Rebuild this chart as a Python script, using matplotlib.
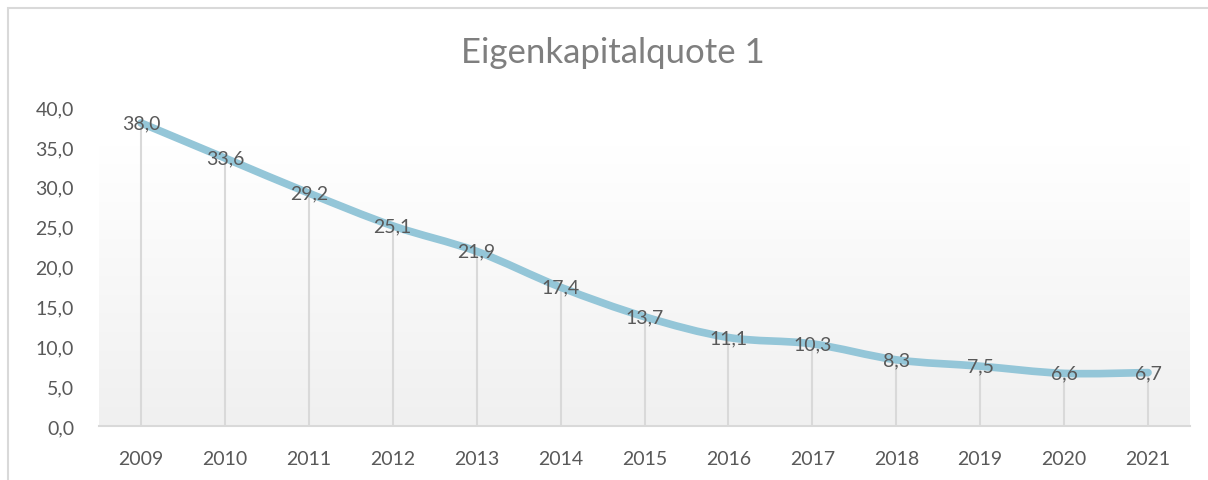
import numpy as np
import matplotlib
matplotlib.use("Agg")
import matplotlib.pyplot as plt
from matplotlib.path import Path
from matplotlib.patches import PathPatch, Rectangle

years = ["2009", "2010", "2011", "2012", "2013", "2014", "2015",
         "2016", "2017", "2018", "2019", "2020", "2021"]
values = [38.0, 33.6, 29.2, 25.1, 21.9, 17.4, 13.7, 11.1, 10.3, 8.3, 7.5, 6.6, 6.7]
yticks = [0, 5, 10, 15, 20, 25, 30, 35, 40]
title = "Eigenkapitalquote 1"

plt.rcParams['font.family'] = ['Lato', 'DejaVu Sans']

W, H = 1208, 481
fig = plt.figure(figsize=(W / 100, H / 100), dpi=100)
fig.patch.set_facecolor("white")

ax = fig.add_axes([99 / W, 1 - 427 / H, (1190 - 99) / W, (427 - 108) / H])
ax.set_facecolor("none")

x = np.arange(len(years))
y = np.array(values)

# gradient background
grad = np.linspace(0, 1, 256).reshape(-1, 1)
ax.imshow(grad, extent=(-0.5, 12.5, 0, 35.2), aspect="auto", origin="upper",
          cmap=matplotlib.colors.LinearSegmentedColormap.from_list(
              "g", ["#FFFFFF", "#F0F0F0"]), zorder=0, interpolation="bilinear")

# drop lines
ax.vlines(x, 0, y, color="#D9D9D9", lw=1.5, zorder=1)

# smoothed line (Bezier through the data points)
pts = np.column_stack([x, y]).astype(float)
verts = [tuple(pts[0])]
codes = [Path.MOVETO]
n = len(pts)
for i in range(n - 1):
    p0 = pts[i - 1] if i > 0 else pts[i]
    p1 = pts[i]
    p2 = pts[i + 1]
    p3 = pts[i + 2] if i + 2 < n else pts[i + 1]
    c1 = p1 + (p2 - p0) / 6.0
    c2 = p2 - (p3 - p1) / 6.0
    verts += [tuple(c1), tuple(c2), tuple(p2)]
    codes += [Path.CURVE4] * 3
path = Path(verts, codes)
ax.add_patch(PathPatch(path, facecolor="none", edgecolor="#94C6D8", lw=5.5,
                       capstyle="round", joinstyle="round", zorder=2))

for xi, yi in zip(x, y):
    ax.text(xi, yi, f"{yi:.1f}".replace(".", ","), ha="center", va="center",
            fontsize=14, color="#595959", zorder=3)

ax.set_xlim(-0.5, 12.5)
ax.set_ylim(0, 40)
ax.set_xticks(x)
ax.set_xticklabels(years)
ax.set_yticks(yticks)
ax.set_yticklabels([f"{v:.1f}".replace(".", ",") for v in yticks])
ax.tick_params(axis="both", length=0, labelsize=14, colors="#595959")
ax.tick_params(axis="x", pad=17)
ax.tick_params(axis="y", pad=18)
for s in ["top", "right", "left"]:
    ax.spines[s].set_visible(False)
ax.spines["bottom"].set_color("#D9D9D9")
ax.spines["bottom"].set_linewidth(1.5)

fig.text(613 / W, 1 - 53 / H, title, ha="center", va="center",
         fontsize=25, color="#7F7F7F")

# chart border
fig.patches.append(Rectangle((8 / W, -0.1), 1.2, 1 - 9 / H + 0.1, transform=fig.transFigure,
                             fill=False, edgecolor="#D9D9D9", lw=1.5))

fig.savefig("out.png", dpi=100)
